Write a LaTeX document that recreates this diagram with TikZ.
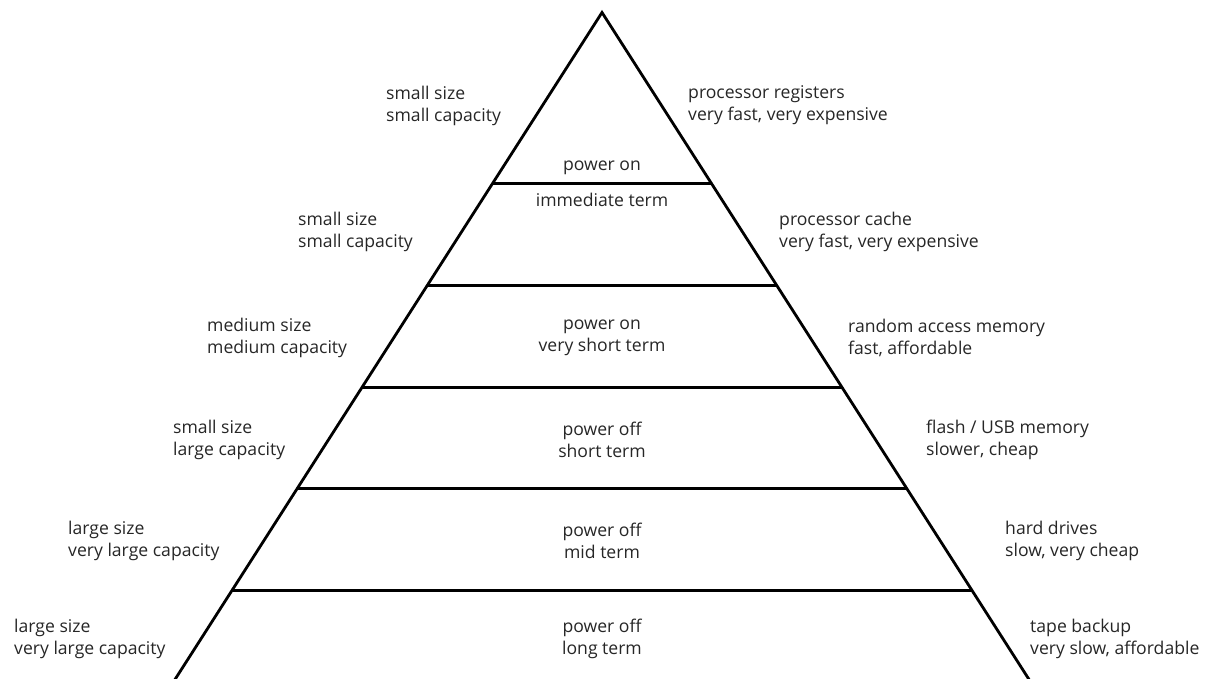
\documentclass[tikz,border=0pt]{standalone}
\usepackage{fontspec}
\setmainfont{Open Sans}
\usetikzlibrary{calc}
\definecolor{txt}{HTML}{262626}
\tikzset{
  edge/.style={line width=2.8pt, black},
  tier/.style={line width=2.8pt, black},
  lbl/.style={anchor=west, align=left, text=txt, font=\fontsize{17.6}{22}\selectfont, inner sep=0pt},
  mid/.style={anchor=center, align=center, text=txt, font=\fontsize{17.6}{22}\selectfont, inner sep=0pt},
}
\begin{document}
\begin{tikzpicture}[x=1pt,y=-1pt]
\useasboundingbox (0,0) rectangle (1214,679);
\clip (0,0) rectangle (1214,679);
\coordinate (apex) at (602,12.5);
\coordinate (bl) at (174,681);
\coordinate (br) at (1030,681);
\draw[edge, line join=miter] (bl) -- (apex) -- (br);
% tier lines
\foreach \n/\t in {a/0.2557, b/0.4083, c/0.5609, d/0.7120, e/0.8647}{
  \coordinate (L\n) at ($(apex)!\t!(bl)$);
  \coordinate (R\n) at ($(apex)!\t!(br)$);
  \draw[tier] (L\n) -- (R\n);
}
% centre labels
\node[mid] (c1a) at (602,167.5) {power on};
\node[mid] (c1b) at (602,199.5) {immediate term};
\node[mid] (c3) at (602,338) {power on\\very short term};
\node[mid] (c4) at (602,440) {power off\\short term};
\node[mid] (c5) at (602,541) {power off\\mid term};
\node[mid] (c6) at (602,639) {power off\\long term};
% left labels
\node[lbl] (l1) at (386,105.5) {small size\\small capacity};
\node[lbl] (l2) at (298,232) {small size\\small capacity};
\node[lbl] (l3) at (207,338) {medium size\\medium capacity};
\node[lbl] (l4) at (173,440) {small size\\large capacity};
\node[lbl] (l5) at (68,541) {large size\\very large capacity};
\node[lbl] (l6) at (14,639) {large size\\very large capacity};
% right labels
\node[lbl] (r1) at (688,105.5) {processor registers\\very fast, very expensive};
\node[lbl] (r2) at (779,232) {processor cache\\very fast, very expensive};
\node[lbl] (r3) at (848,338) {random access memory\\fast, affordable};
\node[lbl] (r4) at (926,440) {flash / USB memory\\slower, cheap};
\node[lbl] (r5) at (1005,541) {hard drives\\slow, very cheap};
\node[lbl] (r6) at (1030,639) {tape backup\\very slow, affordable};
\end{tikzpicture}
\end{document}
